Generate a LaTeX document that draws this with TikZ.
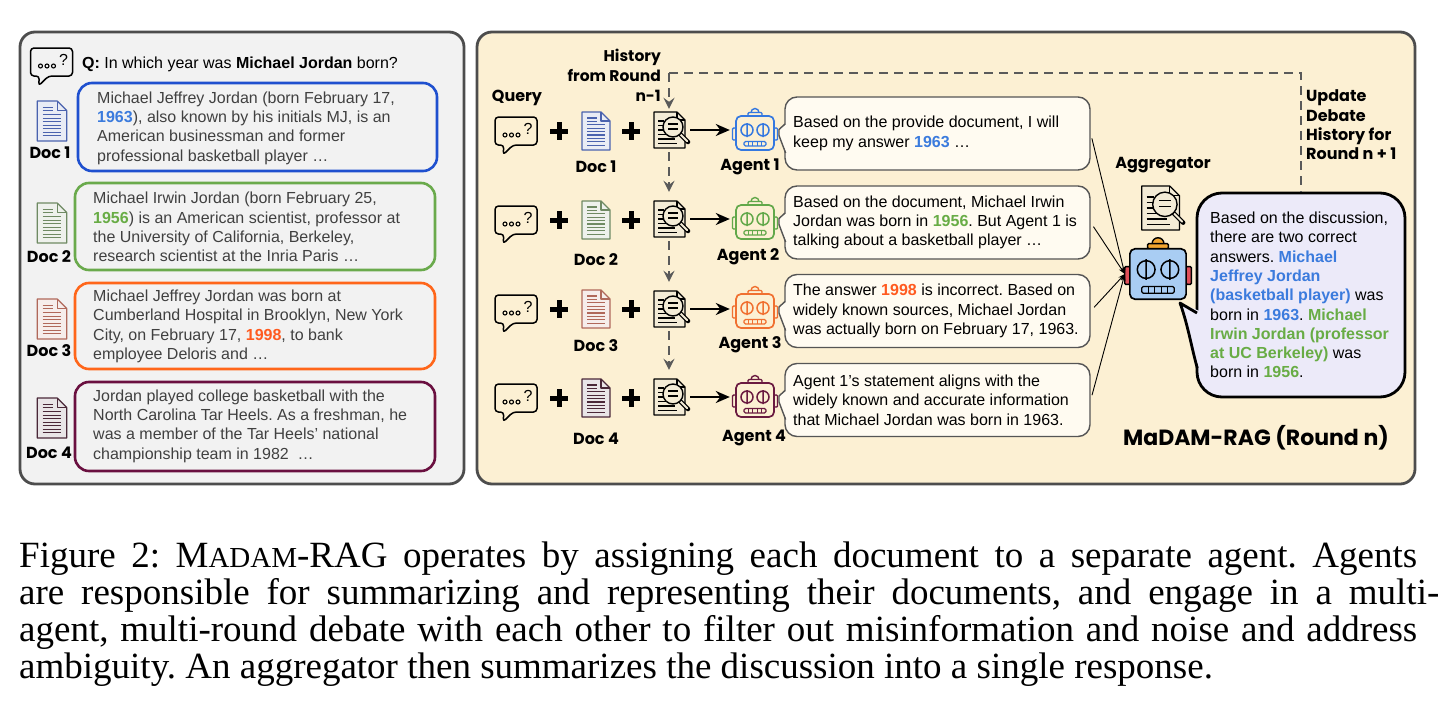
\documentclass[tikz,border=0pt]{standalone}
\usepackage{fontspec}
\setmainfont{Liberation Sans}
\newfontfamily\capfont{Liberation Serif}
\newfontfamily\labfont{Poppins}
\usetikzlibrary{arrows.meta}
\frenchspacing
\definecolor{panelline}{HTML}{4D4D4D}
\definecolor{lpfill}{HTML}{F2F2F2}
\definecolor{rpfill}{HTML}{FCF0D3}
\definecolor{bubfill}{HTML}{FFFBF1}
\definecolor{bubline}{HTML}{555555}
\definecolor{dgray}{HTML}{5A5A5A}
\definecolor{ltext}{HTML}{404040}
\definecolor{paper}{HTML}{F3EBD6}
\definecolor{lav}{HTML}{ECEAF9}
\definecolor{cblue}{HTML}{3B7BDD}
\definecolor{cgreen}{HTML}{68AC45}
\definecolor{corange}{HTML}{FF5A1F}
\definecolor{bblue}{HTML}{1F50CF}
\definecolor{bgreen}{HTML}{6AAA4C}
\definecolor{borange}{HTML}{FF661A}
\definecolor{bmaroon}{HTML}{6A1040}
\definecolor{rblue}{HTML}{3478E0}
\definecolor{rgreen}{HTML}{62A84A}
\definecolor{rorange}{HTML}{F07030}
\definecolor{rmaroon}{HTML}{6A1A40}
\definecolor{dblue}{HTML}{4A62AE}
\definecolor{dgreen}{HTML}{6F8A63}
\definecolor{dorange}{HTML}{B0685A}
\definecolor{dmaroon}{HTML}{4A2838}
\definecolor{aggblue}{HTML}{A9CDF3}
\definecolor{aggred}{HTML}{E0505A}
\definecolor{aggorange}{HTML}{F2A530}
\newcommand\fsc[1]{{\fontsize{29}{29}\selectfont #1}}
\tikzset{
 pics/qbub/.style={code={
   \draw[line width=1.5pt, rounded corners=3.5pt, line join=round] (-3,14) -- (21,14) -- (21,-14) -- (-21,-14) -- (-21,14) -- (-12,14) -- (-13,24) -- cycle;
   \foreach \dx in {-11,-4.5,2}{\draw[line width=1.1pt] (\dx,4) circle (2);}
   \node[inner sep=0pt, font=\fontsize{16}{16}\selectfont] at (12,-2) {?};
 }},
 pics/doci/.style={code={
   \draw[#1, line width=1.3pt, fill=#1!12, line join=round] (-14,-19) -- (5,-19) -- (14,-10) -- (14,19) -- (-14,19) -- cycle;
   \draw[#1, line width=1.1pt, line join=round] (5,-19) -- (5,-10) -- (14,-10);
   \foreach \yy in {-13,-9.6}{\draw[#1, line width=1.1pt] (-9,\yy) -- (1,\yy);}
   \foreach \yy in {-6.2,-2.8,0.6,4,7.4,10.8,14.2}{\draw[#1, line width=1.1pt] (-9,\yy) -- (9,\yy);}
 }},
 pics/sdoc/.style={code={
   \draw[line width=1.2pt, fill=paper, line join=round] (-15,-18) -- (8,-18) -- (16,-10) -- (16,18) -- (-15,18) -- cycle;
   \draw[line width=1.1pt, line join=round] (8,-18) -- (8,-10) -- (16,-10);
   \foreach \yy in {-9,-4.5,0}{\draw[line width=1.1pt] (-11,\yy) -- (-5,\yy);}
   \draw[line width=1.1pt] (-11,4.5) -- (0,4.5) (-11,9) -- (6,9) (-11,13.5) -- (8,13.5);
   \draw[line width=4.5pt, line cap=round] (11,4) -- (19,12);
   \draw[line width=2pt, line cap=round, paper] (11.8,4.8) -- (18.2,11.2);
   \draw[line width=1.4pt, fill=paper] (4,-3) circle (10);
   \draw[line width=1.2pt] (-1,-6) -- (9,-6) (-1,-1) -- (9,-1);
 }},
 pics/robot/.style n args={4}{code={
   \draw[#1, line width=1.4pt, fill=#4] (0,-20.5) circle (4);
   \draw[#1, line width=1.4pt, fill=#4, rounded corners=1pt] (-7,-20.5) rectangle (7,-17);
   \draw[#1, line width=1.4pt, fill=#3, rounded corners=1pt] (-22.5,-5) rectangle (-19,7);
   \draw[#1, line width=1.4pt, fill=#3, rounded corners=1pt] (19,-5) rectangle (22.5,7);
   \draw[#1, line width=1.7pt, fill=#2, rounded corners=5pt] (-19,-17) rectangle (19,17);
   \draw[#1, line width=1.5pt] (-8,-3) circle (6) (8,-3) circle (6) (-8,-10) -- (-8,4) (8,-10) -- (8,4);
   \draw[#1, line width=1.3pt, rounded corners=1.5pt] (-11,8.5) rectangle (11,13);
   \draw[#1, line width=0.9pt] (-6.6,8.5) -- (-6.6,13) (-2.2,8.5) -- (-2.2,13) (2.2,8.5) -- (2.2,13) (6.6,8.5) -- (6.6,13);
 }},
 lab/.style={font=\labfont\bfseries\fontsize{16}{19.3}\selectfont, inner sep=0pt},
 txt/.style={font=\fontsize{16}{19.3}\selectfont, align=left, inner sep=0pt, anchor=west},
 ltxt/.style={txt, text=ltext},
 docbox/.style={draw=#1, line width=2.6pt, rounded corners=14pt, inner sep=0pt},
 agb/.style={draw=bubline, fill=bubfill, line width=1.4pt, rounded corners=12pt, inner sep=0pt, minimum width=305pt, minimum height=73pt},
 panel/.style={draw=panelline, line width=2.8pt, rounded corners=15pt, inner sep=0pt},
 hit/.style={inner sep=0pt, minimum width=34pt, minimum height=38pt},
 rhit/.style={inner sep=0pt, minimum width=44pt, minimum height=36pt},
 dashln/.style={draw=dgray, line width=2.8pt, dash pattern=on 9pt off 6pt},
 dasharr/.style={dashln, -{Stealth[length=11pt,width=11pt,inset=4pt]}},
 solarr/.style={line width=2.8pt, -{Stealth[length=14pt,width=12pt]}},
 thinarr/.style={line width=0.9pt, -{Stealth[length=7pt,width=5pt]}, shorten <=5pt},
 plus/.style={line width=5pt},
 capt/.style={font=\capfont\fontsize{37}{37}\selectfont, inner sep=0pt, anchor=base west},
}
\newcommand\agtail[1]{%
  \fill[bubfill] (786.2,#1-9) -- (779,#1-4) -- (779,#1+2) -- (786.2,#1+19) -- cycle;
  \draw[bubline, line width=1.4pt, line join=round] (785,#1-9.5) -- (779,#1-4) -- (779,#1+2) -- (785.6,#1+19.5);
}
\begin{document}
\begin{tikzpicture}[x=1pt,y=-1pt]
\useasboundingbox (0,0) rectangle (1456,720);
\fill[white] (0,0) rectangle (1456,720);
% panels
\node[panel, fill=lpfill, minimum width=444pt, minimum height=452pt] (lp) at (242,258) {};
\node[panel, fill=rpfill, minimum width=938pt, minimum height=452pt] (rp) at (946,258) {};
% ---------- left panel
\pic at (51.5,62) {qbub};
\node[anchor=west, font=\fontsize{16}{19}\selectfont, inner sep=0pt] (q) at (82,64) {\textbf{Q:} In which year was \textbf{Michael Jordan} born?};
\node[docbox=bblue, minimum width=359pt, minimum height=88pt] (L1) at (257.5,127) {};
\node[docbox=bgreen, minimum width=360pt, minimum height=87pt] (L2) at (255,226.5) {};
\node[docbox=borange, minimum width=360pt, minimum height=86pt] (L3) at (255,326) {};
\node[docbox=bmaroon, minimum width=360pt, minimum height=89pt] (L4) at (255,426.5) {};
\node[ltxt] (t1) at (97,128) {Michael Jeffrey Jordan (born February 17,\\\textcolor{cblue}{\textbf{1963}}), also known by his initials MJ, is an\\American businessman and former\\professional basketball player …};
\node[ltxt] (t2) at (93,227) {Michael Irwin Jordan (born February 25,\\\textcolor{cgreen}{\textbf{1956}}) is an American scientist, professor at\\the University of California, Berkeley,\\research scientist at the Inria Paris …};
\node[ltxt] (t3) at (93,326.5) {Michael Jeffrey Jordan was born at\\Cumberland Hospital in Brooklyn, New York\\City, on February 17, \textcolor{corange}{\textbf{1998}}, to bank\\employee Deloris and …};
\node[ltxt] (t4) at (93,426) {Jordan played college basketball with the\\North Carolina Tar Heels. As a freshman, he\\was a member of the Tar Heels' national\\championship team in 1982 \ …};
\pic[scale=1.05] at (52,121) {doci=dblue};
\pic[scale=1.05] at (52,223) {doci=dgreen};
\pic[scale=1.05] at (52,319) {doci=dorange};
\pic[scale=1.05] at (52,418) {doci=dmaroon};
\node[lab] (ld1) at (50,153) {Doc 1};
\node[lab] (ld2) at (49,257) {Doc 2};
\node[lab] (ld3) at (49,351) {Doc 3};
\node[lab] (ld4) at (49,453) {Doc 4};
% ---------- right panel labels
\node[lab] (qlab) at (517,98) {Query};
\node[lab, align=right, anchor=east, font=\labfont\bfseries\fontsize{15.5}{20}\selectfont] (hist) at (661,75) {History\\from Round\\n-1};
\node[lab, align=left, anchor=west] (upd) at (1306,125) {Update\\Debate\\History for\\Round n + 1};
\node[lab] (agglab) at (1163,165) {Aggregator};
\node[lab, font=\labfont\bfseries\fontsize{22}{24}\selectfont] (title) at (1256,438) {MaDAM-RAG (Round n)};
% rows
\foreach \i/\yy/\dc in {1/131/dblue,2/220/dgreen,3/309/dorange,4/398/dmaroon}{
  \pic at (516,\yy) {qbub};
  \draw[plus] (550,\yy) -- (568,\yy) (559,\yy-9) -- (559,\yy+9);
  \draw[plus] (622,\yy) -- (640,\yy) (631,\yy-9) -- (631,\yy+9);
  \pic at (596,\yy) {doci=\dc};
}
\node[lab] (rd1) at (596,167) {Doc 1};
\node[lab] (rd2) at (596,260) {Doc 2};
\node[lab] (rd3) at (596,346) {Doc 3};
\node[lab] (rd4) at (596,439) {Doc 4};
% search docs
\node[hit] (s1) at (669,130) {};
\node[hit] (s2) at (669,219) {};
\node[hit] (s3) at (669,309) {};
\node[hit] (s4) at (669,397) {};
\foreach \n in {s1,s2,s3,s4}{\pic at (\n.center) {sdoc};}
% agents
\node[rhit] (r1) at (755,133) {};
\node[rhit] (r2) at (755,222) {};
\node[rhit] (r3) at (755,311) {};
\node[rhit] (r4) at (755,400) {};
\pic at (r1.center) {robot={rblue}{rpfill}{rpfill}{rpfill}};
\pic at (r2.center) {robot={rgreen}{rpfill}{rpfill}{rpfill}};
\pic at (r3.center) {robot={rorange}{rpfill}{rpfill}{rpfill}};
\pic at (r4.center) {robot={rmaroon}{rpfill}{rpfill}{rpfill}};
\node[lab] (al1) at (750,167) {Agent 1};
\node[lab] (al2) at (748,257) {Agent 2};
\node[lab] (al3) at (750,345) {Agent 3};
\node[lab] (al4) at (754,438) {Agent 4};
% agent bubbles
\node[agb] (b1) at (937.5,133.5) {};
\node[agb] (b2) at (937.5,222.5) {};
\node[agb] (b3) at (937.5,311) {};
\node[agb] (b4) at (937.5,400) {};
\agtail{133.5}\agtail{222.5}\agtail{311}\agtail{400}
\node[txt] (bt1) at (793,133.5) {Based on the provide document, I will\\keep my answer \textcolor{cblue}{\textbf{1963}} …};
\node[txt] (bt2) at (793,222.5) {Based on the document, Michael Irwin\\Jordan was born in \textcolor{cgreen}{\textbf{1956}}. But Agent 1 is\\talking about a basketball player …};
\node[txt] (bt3) at (793,311) {The answer \textcolor{corange}{\textbf{1998}} is incorrect. Based on\\widely known sources, Michael Jordan\\was actually born on February 17, 1963.};
\node[txt] (bt4) at (793,400) {Agent 1's statement aligns with the\\widely known and accurate information\\that Michael Jordan was born in 1963.};
% aggregator
\node[inner sep=0pt, minimum width=44pt, minimum height=45pt] (as) at (1160,208) {};
\pic[scale=1.22] at (as.center) {sdoc};
\node[inner sep=0pt, minimum width=66pt, minimum height=54pt] (ag) at (1158,274) {};
\pic[scale=1.48] at (ag.center) {robot={black}{aggblue}{aggred}{aggorange}};
\node[draw=black, fill=lav, line width=2.8pt, rounded corners=25pt, inner sep=0pt, minimum width=208pt, minimum height=204pt] (aggb) at (1301,295) {};
\fill[lav] (1199.5,311) -- (1180,303) .. controls (1188,325) and (1192,350) .. (1199.5,370) -- cycle;
\draw[line width=2.8pt, line join=round] (1197,313) -- (1180,303) .. controls (1188,325) and (1192,350) .. (1197.3,368);
\node[txt] (aggt) at (1210,295) {Based on the discussion,\\there are two correct\\answers. \textcolor{cblue}{\textbf{Michael}}\\\textcolor{cblue}{\textbf{Jeffrey Jordan}}\\\textcolor{cblue}{\textbf{(basketball player)}} was\\born in \textcolor{cblue}{\textbf{1963}}. \textcolor{cgreen}{\textbf{Michael}}\\\textcolor{cgreen}{\textbf{Irwin Jordan (professor}}\\\textcolor{cgreen}{\textbf{at UC Berkeley)}} was\\born in \textcolor{cgreen}{\textbf{1956}}.};
% connectors
\coordinate (hc) at (669,73);
\draw[dashln] (hc) -| (aggb.north);
\draw[dasharr, shorten >=2pt] (hc) -- (s1.north);
\draw[dasharr, shorten <=3pt, shorten >=8pt] (s1.south) -- (s2.north);
\draw[dasharr, shorten <=3pt, shorten >=8pt] (s2.south) -- (s3.north);
\draw[dasharr, shorten <=3pt, shorten >=8pt] (s3.south) -- (s4.north);
\draw[solarr] ([xshift=4pt]s1.east) -- ([xshift=-3pt]r1.west |- s1.east);
\draw[solarr] ([xshift=4pt]s2.east) -- ([xshift=-3pt]r2.west |- s2.east);
\draw[solarr] ([xshift=4pt]s3.east) -- ([xshift=-3pt]r3.west |- s3.east);
\draw[solarr] ([xshift=4pt]s4.east) -- ([xshift=-3pt]r4.west |- s4.east);
\draw[thinarr] (b1.east) -- (ag.west);
\draw[thinarr] (b2.east) -- (ag.west);
\draw[thinarr] (b3.east) -- (ag.west);
\draw[thinarr] (b4.east) -- (ag.west);
% caption
\node[capt] (c1) at (19,567) {\makebox[1398pt][s]{Figure 2: M\fsc{ADAM}-RAG operates by assigning each document to a separate agent. Agents}};
\node[capt] (c2) at (19,604) {\makebox[1420pt][s]{are responsible for summarizing and representing their documents, and engage in a multi-}};
\node[capt] (c3) at (19,641) {\makebox[1398pt][s]{agent, multi-round debate with each other to filter out misinformation and noise and address}};
\node[capt] (c4) at (19,678) {ambiguity. An aggregator then summarizes the discussion into a single response.};
\end{tikzpicture}
\end{document}
